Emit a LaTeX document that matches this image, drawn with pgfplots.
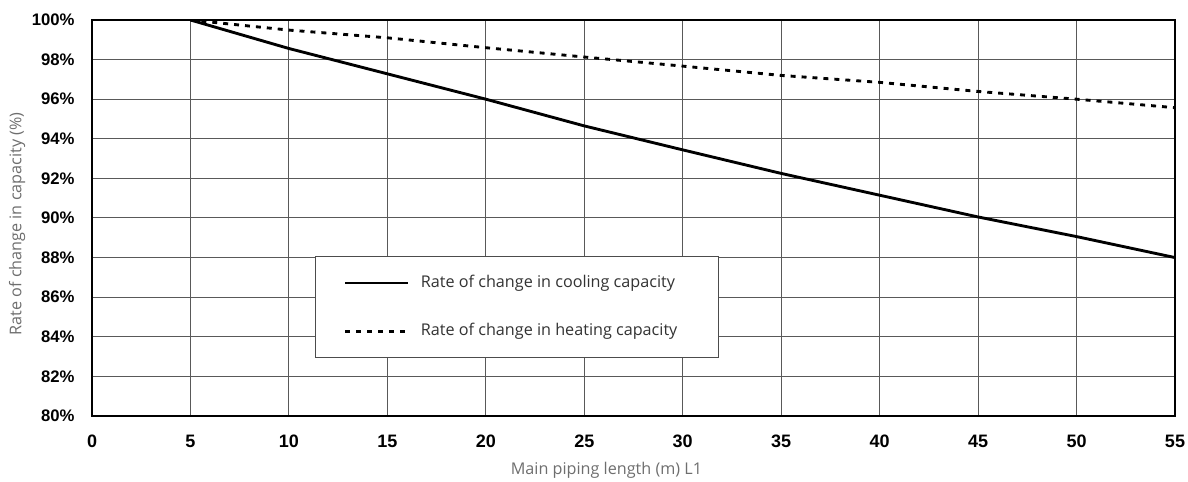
\documentclass[border=0pt]{standalone}
\usepackage{fontspec}
\setmainfont{Liberation Sans}
\newfontfamily\labelfont{Open Sans}
\usepackage{pgfplots}
\pgfplotsset{compat=1.18}

% 1 px of the reference = 16cm/1188
\def\px{0.013468cm}

\definecolor{labelgray}{RGB}{110,110,110}

\begin{document}
\begin{tikzpicture}
	\begin{axis}[
		scale only axis,
		width=14.586cm,
		height=5.333cm,
		xmin=0, xmax=55,
		ymin=80, ymax=100,
		xtick={0,5,...,55},
		ytick={80,82,...,100},
		grid=major,
		major grid style={black!65, line width=0.4pt},
		axis line style={black, line width=0.8pt},
		major tick length=0pt,
		/pgf/number format/assume math mode=true,
		yticklabel={\pgfmathprintnumber{\tick}\%},
		tick label style={font=\fontsize{6.4}{7}\selectfont\bfseries},
		yticklabel style={inner sep=0pt, xshift=-6.5pt},
		xticklabel style={inner sep=0pt, yshift=-7.2pt, font=\fontsize{6.9}{7}\selectfont\bfseries},
		xlabel={Main piping length (m) L1},
		ylabel={Rate of change in capacity (\%)},
		label style={font=\labelfont\fontsize{6.2}{7}\selectfont, text=labelgray},
		xlabel style={at={(rel axis cs:0.475,0)}, anchor=center, yshift=-54*\px},
		ylabel style={at={(rel axis cs:0,0.485)}, anchor=center, yshift=75*\px},
		legend image code/.code={\draw[#1] (0pt,0pt) -- (24pt,0pt);},
		legend style={at={(0.206,0.404)}, anchor=north west,
			draw=black!70, line width=0.5pt,
			font=\labelfont\fontsize{6.2}{7}\selectfont, text=black!80,
			inner xsep=10.7pt, inner ysep=5.5pt, row sep=9.2pt, column sep=3pt,
			nodes={inner sep=1.5pt}},
		legend cell align=left,
	]

	\addplot[black, line width=1.1pt] coordinates {
		(5,100) (10,98.56) (15,97.28) (20,96.0) (25,94.65) (30,93.44)
		(35,92.25) (40,91.15) (45,90.05) (50,89.06) (55,88.0)
	};
	\addplot[black, line width=1.1pt, dash pattern=on 1.9pt off 2.3pt] coordinates {
		(5,100) (10,99.49) (15,99.1) (20,98.6) (25,98.13) (30,97.67)
		(35,97.2) (40,96.85) (45,96.39) (50,96.0) (55,95.57)
	};

	\legend{Rate of change in cooling capacity\rule{3.6pt}{0pt}, Rate of change in heating capacity\rule{3.6pt}{0pt}}
	\end{axis}
	\pgfresetboundingbox
	\path ([shift={(-92*\px,-66*\px)}]current axis.south west) rectangle ([shift={(13*\px,20*\px)}]current axis.north east);
\end{tikzpicture}
\end{document}
